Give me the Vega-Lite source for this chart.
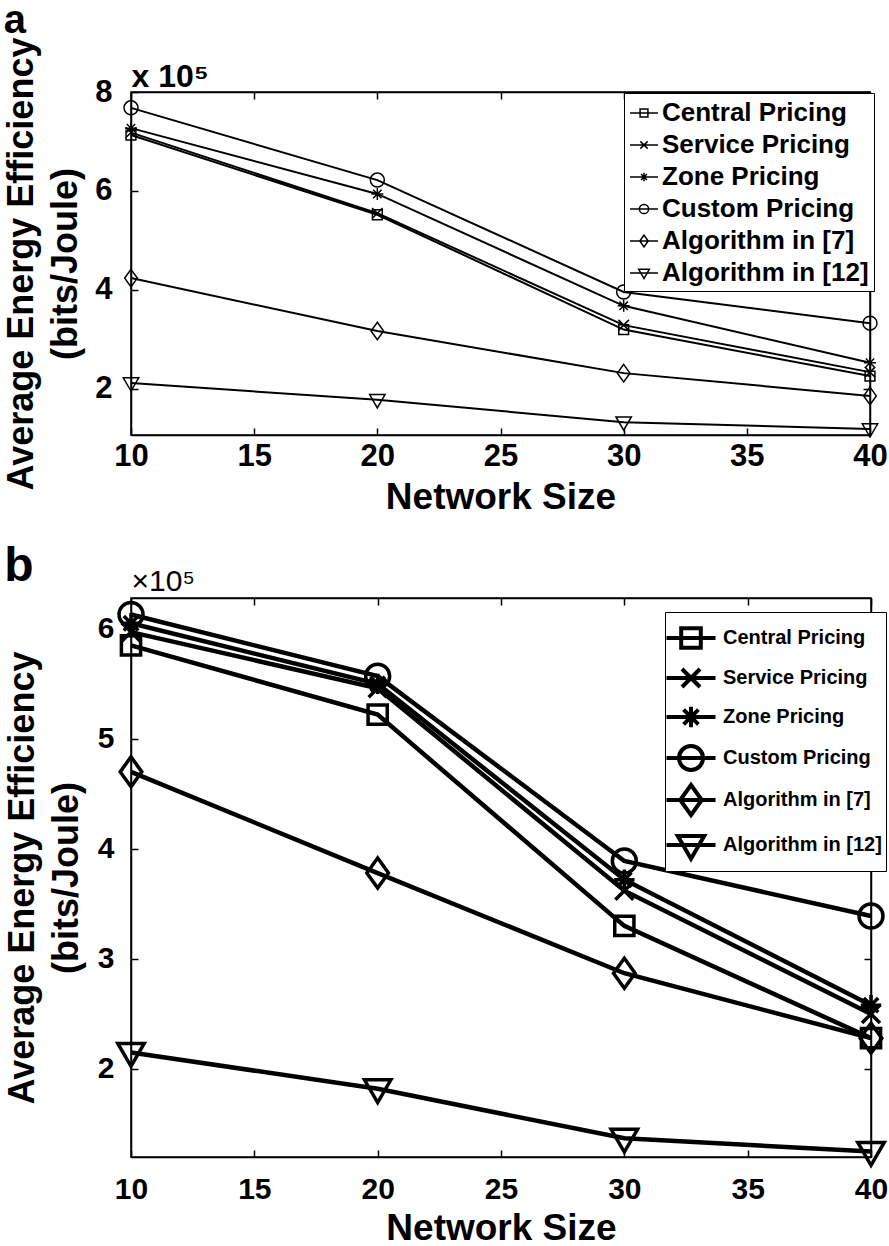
{
  "$schema": "https://vega.github.io/schema/vega-lite/v6.json",
  "padding": {"left": 3, "top": 0, "right": 0, "bottom": 0},
  "background": "white",
  "config": {
    "font": "Liberation Sans",
    "view": {"stroke": "black", "strokeWidth": 1.5},
    "axis": {"grid": false, "domainColor": "black", "domainWidth": 1.5, "tickColor": "black", "tickWidth": 1.5, "labelColor": "black", "titleColor": "black", "labelFontWeight": "bold", "titleFontWeight": "bold", "tickSize": -7, "labelFlush": false, "labelOverlap": false}
  },
  "datasets": {
    "a": [
      {"series": "Central Pricing", "n": 10, "eff": 7.13}, {"series": "Central Pricing", "n": 20, "eff": 5.52}, {"series": "Central Pricing", "n": 30, "eff": 3.20}, {"series": "Central Pricing", "n": 40, "eff": 2.26},
      {"series": "Service Pricing", "n": 10, "eff": 7.18}, {"series": "Service Pricing", "n": 20, "eff": 5.55}, {"series": "Service Pricing", "n": 30, "eff": 3.29}, {"series": "Service Pricing", "n": 40, "eff": 2.34},
      {"series": "Zone Pricing", "n": 10, "eff": 7.27}, {"series": "Zone Pricing", "n": 20, "eff": 5.94}, {"series": "Zone Pricing", "n": 30, "eff": 3.68}, {"series": "Zone Pricing", "n": 40, "eff": 2.53},
      {"series": "Custom Pricing", "n": 10, "eff": 7.68}, {"series": "Custom Pricing", "n": 20, "eff": 6.22}, {"series": "Custom Pricing", "n": 30, "eff": 3.96}, {"series": "Custom Pricing", "n": 40, "eff": 3.33},
      {"series": "Algorithm in [7]", "n": 10, "eff": 4.24}, {"series": "Algorithm in [7]", "n": 20, "eff": 3.17}, {"series": "Algorithm in [7]", "n": 30, "eff": 2.32}, {"series": "Algorithm in [7]", "n": 40, "eff": 1.86},
      {"series": "Algorithm in [12]", "n": 10, "eff": 2.12}, {"series": "Algorithm in [12]", "n": 20, "eff": 1.78}, {"series": "Algorithm in [12]", "n": 30, "eff": 1.33}, {"series": "Algorithm in [12]", "n": 40, "eff": 1.19}
    ],
    "b": [
      {"series": "Central Pricing", "n": 10, "eff": 5.85}, {"series": "Central Pricing", "n": 20, "eff": 5.22}, {"series": "Central Pricing", "n": 30, "eff": 3.30}, {"series": "Central Pricing", "n": 40, "eff": 2.28},
      {"series": "Service Pricing", "n": 10, "eff": 5.97}, {"series": "Service Pricing", "n": 20, "eff": 5.46}, {"series": "Service Pricing", "n": 30, "eff": 3.62}, {"series": "Service Pricing", "n": 40, "eff": 2.50},
      {"series": "Zone Pricing", "n": 10, "eff": 6.05}, {"series": "Zone Pricing", "n": 20, "eff": 5.50}, {"series": "Zone Pricing", "n": 30, "eff": 3.72}, {"series": "Zone Pricing", "n": 40, "eff": 2.58},
      {"series": "Custom Pricing", "n": 10, "eff": 6.13}, {"series": "Custom Pricing", "n": 20, "eff": 5.57}, {"series": "Custom Pricing", "n": 30, "eff": 3.89}, {"series": "Custom Pricing", "n": 40, "eff": 3.39},
      {"series": "Algorithm in [7]", "n": 10, "eff": 4.70}, {"series": "Algorithm in [7]", "n": 20, "eff": 3.78}, {"series": "Algorithm in [7]", "n": 30, "eff": 2.87}, {"series": "Algorithm in [7]", "n": 40, "eff": 2.28},
      {"series": "Algorithm in [12]", "n": 10, "eff": 2.15}, {"series": "Algorithm in [12]", "n": 20, "eff": 1.82}, {"series": "Algorithm in [12]", "n": 30, "eff": 1.37}, {"series": "Algorithm in [12]", "n": 40, "eff": 1.25}
    ]
  },
  "concat": [
    {
      "width": 739,
      "height": 343,
      "title": {"text": "a", "anchor": "start", "frame": "bounds", "fontSize": 40, "fontWeight": "bold", "color": "black", "offset": -4},
      "data": {"name": "a"},
      "layer": [
        {
          "mark": {"type": "line", "color": "black", "strokeWidth": 2},
          "encoding": {
            "x": {"field": "n", "type": "quantitative", "scale": {"domain": [10, 40], "nice": false, "zero": false}, "axis": {"orient": "bottom", "values": [10, 15, 20, 25, 30, 35, 40], "labelFontSize": 31, "labelPadding": 13, "title": "Network Size", "titleFontSize": 37, "titlePadding": 8}},
            "y": {"field": "eff", "type": "quantitative", "scale": {"domain": [1.07, 8], "nice": false, "zero": false}, "axis": {"orient": "left", "values": [2, 4, 6, 8], "labelFontSize": 31, "labelPadding": 26, "title": ["Average Energy Efficiency", "(bits/Joule)"], "titleFontSize": 36, "titleLineHeight": 44, "titlePadding": 10}},
            "detail": {"field": "series", "type": "nominal"}
          }
        },
        {
          "mark": {"type": "point", "filled": false, "color": "black", "strokeWidth": 1.5, "size": 196, "opacity": 1},
          "encoding": {
            "x": {"field": "n", "type": "quantitative", "axis": {"orient": "top", "values": [10, 15, 20, 25, 30, 35, 40], "labels": false, "title": "x 10⁵", "titleAnchor": "start", "titleAlign": "left", "titleFontSize": 32, "titlePadding": -2}},
            "y": {"field": "eff", "type": "quantitative", "axis": {"orient": "right", "values": [2, 4, 6, 8], "labels": false, "title": null}},
            "shape": {"field": "series", "type": "nominal", "legend": null, "scale": {"domain": ["Central Pricing", "Service Pricing", "Zone Pricing", "Custom Pricing", "Algorithm in [7]", "Algorithm in [12]"], "range": ["M-0.7,-0.7H0.7V0.7H-0.7Z", "M-0.75,-0.75L0.75,0.75M-0.75,0.75L0.75,-0.75", "M-0.85,0H0.85M0,-0.85V0.85M-0.6,-0.6L0.6,0.6M-0.6,0.6L0.6,-0.6", "M1,0A1,1,0,1,1,-1,0A1,1,0,1,1,1,0Z", "M0,-1.25L0.9,0L0,1.25L-0.9,0Z", "M-1.1,-0.75H1.1L0,1.15Z"]}}
          }
        },
        {
          "transform": [{"filter": "datum.n > 100"}],
          "mark": {"type": "point", "filled": false, "color": "black", "opacity": 1},
          "encoding": {
            "x": {"field": "n", "type": "quantitative", "axis": null},
            "y": {"field": "eff", "type": "quantitative", "axis": null},
            "shape": {"field": "series", "type": "nominal",
              "scale": {"domain": ["Central Pricing", "Service Pricing", "Zone Pricing", "Custom Pricing", "Algorithm in [7]", "Algorithm in [12]"], "range": ["M-1,0H1M-0.28,-0.28H0.28V0.28H-0.28Z", "M-1,0H1M-0.26,-0.26L0.26,0.26M-0.26,0.26L0.26,-0.26", "M-1,0H1M0,-0.3V0.3M-0.21,-0.21L0.21,0.21M-0.21,0.21L0.21,-0.21", "M-1,0H1M0.33,0A0.33,0.33,0,1,1,-0.33,0A0.33,0.33,0,1,1,0.33,0Z", "M-1,0H1M0,-0.42L0.3,0L0,0.42L-0.3,0Z", "M-1,0H1M-0.38,-0.26H0.38L0,0.4Z"]},
              "legend": {"title": null, "orient": "none", "legendX": 493, "legendY": 1, "strokeColor": "black", "fillColor": "white", "padding": 5, "labelFont": "Liberation Sans", "labelFontWeight": "bold", "labelFontSize": 26, "labelColor": "black", "labelOffset": 3, "labelLimit": 0, "rowPadding": 4, "symbolSize": 784, "symbolStrokeWidth": 1.5, "symbolStrokeColor": "black", "symbolOpacity": 1}}
          }
        }
      ],
      "resolve": {"scale": {"shape": "independent"}, "axis": {"x": "independent", "y": "independent"}}
    },
    {
      "width": 740,
      "height": 559,
      "title": {"text": "b", "anchor": "start", "frame": "bounds", "fontSize": 48, "fontWeight": "bold", "color": "black", "offset": 0, "dy": 25},
      "data": {"name": "b"},
      "layer": [
        {
          "mark": {"type": "line", "color": "black", "strokeWidth": 4.5},
          "encoding": {
            "x": {"field": "n", "type": "quantitative", "scale": {"domain": [10, 40], "nice": false, "zero": false}, "axis": {"orient": "bottom", "values": [10, 15, 20, 25, 30, 35, 40], "labelFontSize": 30, "labelPadding": 24, "title": "Network Size", "titleFontSize": 37, "titlePadding": 6}},
            "y": {"field": "eff", "type": "quantitative", "scale": {"domain": [1.2, 6.28], "nice": false, "zero": false}, "axis": {"orient": "left", "values": [2, 3, 4, 5, 6], "labelFontSize": 30, "labelPadding": 24, "title": ["Average Energy Efficiency", "(bits/Joule)"], "titleFontSize": 36, "titleLineHeight": 44, "titlePadding": 12}},
            "detail": {"field": "series", "type": "nominal"}
          }
        },
        {
          "mark": {"type": "point", "filled": false, "color": "black", "strokeWidth": 3.5, "size": 576, "opacity": 1},
          "encoding": {
            "x": {"field": "n", "type": "quantitative", "axis": {"orient": "top", "values": [10, 15, 20, 25, 30, 35, 40], "labels": false, "title": "×10⁵", "titleAnchor": "start", "titleAlign": "left", "titleFontSize": 30, "titleFontWeight": "normal", "titlePadding": 1}},
            "y": {"field": "eff", "type": "quantitative", "axis": {"orient": "right", "values": [2, 3, 4, 5, 6], "labels": false, "title": null}},
            "shape": {"field": "series", "type": "nominal", "legend": null, "scale": {"domain": ["Central Pricing", "Service Pricing", "Zone Pricing", "Custom Pricing", "Algorithm in [7]", "Algorithm in [12]"], "range": ["M-0.8,-0.8H0.8V0.8H-0.8Z", "M-0.75,-0.75L0.75,0.75M-0.75,0.75L0.75,-0.75", "M-0.85,0H0.85M0,-0.85V0.85M-0.6,-0.6L0.6,0.6M-0.6,0.6L0.6,-0.6", "M1,0A1,1,0,1,1,-1,0A1,1,0,1,1,1,0Z", "M0,-1.25L0.9,0L0,1.25L-0.9,0Z", "M-1.1,-0.75H1.1L0,1.15Z"]}}
          }
        },
        {
          "transform": [{"filter": "datum.n > 100"}],
          "mark": {"type": "point", "filled": false, "color": "black", "opacity": 1},
          "encoding": {
            "x": {"field": "n", "type": "quantitative", "axis": null},
            "y": {"field": "eff", "type": "quantitative", "axis": null},
            "shape": {"field": "series", "type": "nominal",
              "scale": {"domain": ["Central Pricing", "Service Pricing", "Zone Pricing", "Custom Pricing", "Algorithm in [7]", "Algorithm in [12]"], "range": ["M-1.225,0H1.225M-0.49,-0.49H0.49V0.49H-0.49Z", "M-1.225,0H1.225M-0.45,-0.45L0.45,0.45M-0.45,0.45L0.45,-0.45", "M-1.225,0H1.225M0,-0.51V0.51M-0.37,-0.37L0.37,0.37M-0.37,0.37L0.37,-0.37", "M-1.225,0H1.225M0.6,0A0.6,0.6,0,1,1,-0.6,0A0.6,0.6,0,1,1,0.6,0Z", "M-1.225,0H1.225M0,-0.75L0.54,0L0,0.75L-0.54,0Z", "M-1.225,0H1.225M-0.66,-0.45H0.66L0,0.69Z"]},
              "legend": {"title": null, "orient": "none", "legendX": 534, "legendY": 14, "strokeColor": "black", "fillColor": "white", "padding": 4, "labelFont": "Liberation Sans", "labelFontWeight": "bold", "labelFontSize": 20, "labelColor": "black", "labelOffset": 10, "labelLimit": 0, "rowPadding": -2, "symbolSize": 1600, "symbolStrokeWidth": 4, "symbolStrokeColor": "black", "symbolOpacity": 1}}
          }
        }
      ],
      "resolve": {"scale": {"shape": "independent"}, "axis": {"x": "independent", "y": "independent"}}
    }
  ],
  "columns": 1,
  "align": "none",
  "spacing": 26,
  "resolve": {"scale": {"x": "independent", "y": "independent", "shape": "independent"}, "legend": {"shape": "independent"}}
}
